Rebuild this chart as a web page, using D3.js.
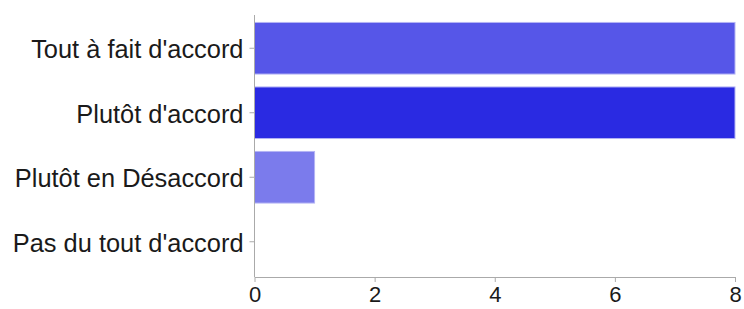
<!DOCTYPE html>
<html>
<head>
<meta charset="utf-8">
<script src="https://cdn.jsdelivr.net/npm/d3@7"></script>
<style>
  body { margin: 0; background: #fff; }
  .axis text { font-family: "Liberation Sans", Arial, sans-serif; fill: #1a1a1a; }
  .axis path, .axis line { stroke: #aaa; }
</style>
</head>
<body>
<div id="chart"></div>
<script>
var svgWidth = 744;
var svgHeight = 309;

// data
var categories = ["Tout à fait d'accord", "Plutôt d'accord", "Plutôt en Désaccord", "Pas du tout d'accord"];
var values = [8, 8, 1, 0];
var colors = ["#5656e8", "#2a2ae2", "#7b7bec", "#5656e8"];
var xTicks = [0, 2, 4, 6, 8];

var margin = { top: 15, right: 9, bottom: 32, left: 254.5 };
var chartWidth = svgWidth - margin.left - margin.right;
var chartHeight = svgHeight - margin.top - margin.bottom;

var svg = d3.select('#chart')
    .append('svg')
    .attr('width', svgWidth)
    .attr('height', svgHeight);

var chartGroup = svg.append('g')
    .attr('transform', `translate(${margin.left},${margin.top})`);

var xScale = d3.scaleLinear()
    .domain([0, 8])
    .range([0, chartWidth]);

var yScale = d3.scaleBand()
    .domain(categories)
    .range([1, chartHeight - 3])
    .paddingInner(0.2)
    .paddingOuter(0.1);

// bars
chartGroup.selectAll('rect')
    .data(values)
    .enter()
    .append('rect')
    .attr('x', xScale(0))
    .attr('y', (d, i) => yScale(categories[i]))
    .attr('width', d => xScale(d))
    .attr('height', yScale.bandwidth())
    .attr('fill', (d, i) => colors[i])
    .attr('stroke', (d, i) => d > 0 ? '#b4b4f4' : 'none')
    .attr('stroke-width', 1);

// x axis
var xAxis = chartGroup.append('g')
    .attr('class', 'axis')
    .attr('transform', `translate(0,${chartHeight})`)
    .call(d3.axisBottom(xScale).tickValues(xTicks).tickSize(5).tickSizeOuter(0).tickPadding(4));
xAxis.selectAll('text').attr('font-size', '22px');

// y axis
var yAxis = chartGroup.append('g')
    .attr('class', 'axis')
    .call(d3.axisLeft(yScale).tickSize(5).tickSizeOuter(0).tickPadding(6));
yAxis.selectAll('text').attr('font-size', '25.4px').attr('dy', '0.4em');
yAxis.select('.domain').attr('d', `M0,0V${chartHeight}`);
</script>
</body>
</html>
